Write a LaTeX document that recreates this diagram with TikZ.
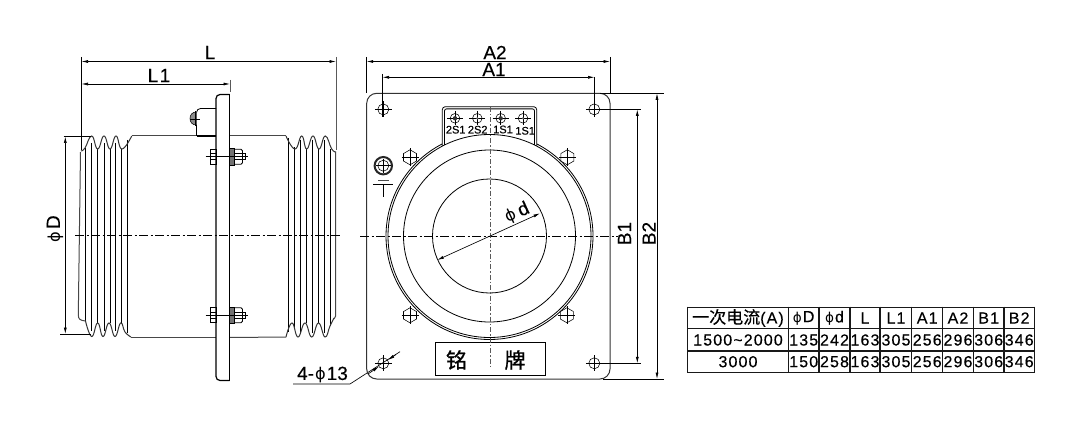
\documentclass[tikz,border=0pt]{standalone}
\usepackage{fontspec}
\setmainfont[FakeBold=0.35]{Liberation Sans}
\newfontfamily\phfont{DejaVu Sans}
\newfontfamily\cjkfont[FakeBold=0.4]{Noto Sans CJK SC}
\newfontfamily\platefont[FakeBold=1]{Noto Sans CJK SC}
\newfontfamily\lsfont[LetterSpace=7,FakeBold=0.35]{Liberation Sans}
\newcommand{\ph}{{\phfont\scalebox{0.85}{ϕ}}}
\usetikzlibrary{arrows.meta}
\tikzset{
  ln/.style={line width=0.8pt,black},
  thin ln/.style={line width=0.55pt,black},
  grayln/.style={line width=1pt,black!72},
  wave/.style={line width=1pt,black!80},
  dim/.style={line width=0.65pt,black,{Latex[length=6.5pt,width=3pt]}-{Latex[length=6.5pt,width=3pt]}},
  dimtip/.style={line width=0.65pt,black,-{Latex[length=6.5pt,width=3pt]}},
  ext/.style={line width=0.65pt,black},
  center ln/.style={line width=0.7pt,black,dash pattern=on 9pt off 2.5pt on 2pt off 2.5pt},
  vcenter ln/.style={line width=0.8pt,black!65,dash pattern=on 5pt off 2pt on 1.5pt off 2pt},
  biglabel/.style={inner sep=0pt,font=\fontsize{19}{20}\selectfont},
  termlabel/.style={inner sep=0pt,font=\fontsize{11}{12}\selectfont},
  cell/.style={inner sep=0pt,font=\fontsize{16}{17}\lsfont},
  grid ln/.style={line width=1.2pt,black!90},
}
\begin{document}
\begin{tikzpicture}[x=1pt,y=-1pt]
\useasboundingbox (0,0) rectangle (1065,425);

% ---------- side view ----------
% bellows left
\foreach \xa/\ya/\yb in {85.7/148/321,91.7/143/331,97.7/149/323,104/143/331,110/149/323,115.7/143/331,121.7/149/323,127.3/140/333}
  \draw[ln] (\xa,\ya) -- (\xa,\yb);
\draw[wave] plot[smooth,tension=0.8] coordinates {(81,151)(85,148)(91.7,136)(97.7,149)(104,136)(110,149)(116,136)(122,149)(131.7,136)};
\draw[wave] plot[smooth,tension=0.8] coordinates {(85.5,321)(91.7,336.5)(97.7,323)(103,336.5)(109,323)(115,336.5)(120.7,323)(125,332)(131,337)};
\draw[grayln] (80.5,152) -- (78.3,315) .. controls (78.3,319) and (80,320.5) .. (85.5,321);
% bellows right
\foreach \xa/\ya/\yb in {288.7/138/332,294/147/328,300/140/333,306.7/149/323,312.3/140/333,318.3/149/323,324.3/140/333,330/149/326}
  \draw[ln] (\xa,\ya) -- (\xa,\yb);
\draw[wave] plot[smooth,tension=0.8] coordinates {(286,136)(295,149)(301.7,136)(306.7,149)(313,136)(319,149)(325.3,136)(331.7,149)(336,152)};
\draw[wave] plot[smooth,tension=0.8] coordinates {(286,337)(292,323)(298,337)(305,323)(311.7,337)(318.5,323)(325,337)(330,326)(334,318)};
\draw[grayln] (335.7,152) -- (335.7,316) -- (334,319);
% body
\draw[grayln] (131.7,136) -- (196.5,136);
\draw[grayln] (229.5,136) -- (286,136);
\draw[grayln] (131,337) -- (216,337);
\draw[grayln] (229.5,337.5) -- (286,337);
% bracket
\draw[line width=0.8pt,rounded corners=4pt] (216,108.5) -- (196.5,108.5) -- (196.5,136);
\draw[line width=1.4pt] (196.5,136) -- (216,136);
\fill[black!45] (196.5,112) .. controls (192,112) and (190,115) .. (190,118.5) .. controls (190,122) and (192,125) .. (196.5,125) -- cycle;
\draw[thin ln] (196.5,112) .. controls (192,112) and (190,115) .. (190,118.5) .. controls (190,122) and (192,125) .. (196.5,125);
\draw[thin ln] (190,119) -- (200,119) (195,111) -- (195,126);
% plate
\draw[line width=1.2pt,rounded corners=4pt] (229.5,94.5) -- (216,94.5) -- (216,380.5) -- (229.5,380.5);
\draw[line width=0.9pt] (229.5,94.5) -- (229.5,380.5);
% bolts
\foreach \yy in {156.7,315.3}{
  \draw[ln] (210,\yy-7.5) rectangle (216,\yy+7.5);
  \draw[thin ln] (210,\yy-3) -- (216,\yy-3) (210,\yy+3) -- (216,\yy+3);
  \fill[black!55] (229.5,\yy-8.3) rectangle (234.3,\yy+8.3);
  \draw[thin ln] (229.5,\yy-8.3) rectangle (234.3,\yy+8.3);
  \draw[ln,rounded corners=1.5pt] (234.3,\yy-7.5) -- (242.5,\yy-7.5) -- (242.5,\yy+7.5) -- (234.3,\yy+7.5);
  \draw[thin ln] (234.3,\yy-3) -- (242.5,\yy-3) (234.3,\yy+3) -- (242.5,\yy+3);
  \draw[thin ln] (205.7,\yy) -- (247.7,\yy);
  \draw[thin ln] (242.5,\yy-3) -- (245,\yy-3) -- (245,\yy+3) -- (242.5,\yy+3);
}
% side center line
\draw[center ln] (75,235.3) -- (342,235.3);
% L dims
\draw[ext] (81.5,57) -- (81.5,150);
\draw[line width=0.8pt,black!65] (336,57) -- (336,150);
\draw[line width=0.8pt,black!65] (230,80) -- (230,92);
\draw[dim] (81.5,61.5) -- (336,61.5);
\draw[dim] (81.5,84) -- (230,84);
\node[biglabel] (labL) at (210,52.5) {L};
\node[biglabel] (labLa) at (159,75.5) {L\hspace{1.5pt}1};
% phi D dim
\draw[ext] (63.5,136.5) -- (91,136.5);
\draw[ext] (60,334) -- (91,334);
\draw[dim] (65.3,136.5) -- (65.3,334);
\node[biglabel,rotate=90] (labD) at (55,229) {\ph\hspace{3pt}D};
% 4-phi 13
\node[biglabel] (lab4) at (322.5,375) {4-\hspace{1pt}\ph\hspace{1pt}13};
\draw[ext] (293,384) -- (350,384) -- (400,351.7);

% ---------- front view ----------
\draw[line width=1pt,black!80,rounded corners=10pt] (366.7,93.3) rectangle (610,379);
% corner holes
\foreach \hx/\hy in {383.3/109.4,594.3/109.4,383.3/363.3,594.3/363.3}{
  \draw[thin ln] (\hx,\hy) circle[radius=5.5pt];
  \draw[thin ln] (\hx-8.5,\hy) -- (\hx+8.5,\hy) (\hx,\hy-8) -- (\hx,\hy+8);
}
% small hex bolts behind the flange
\foreach \hx/\hy in {410/157.3,567.3/157.3,410/315.3,566.9/315.3}{
  \draw[thin ln] (\hx,\hy-7.5) -- (\hx+6.5,\hy-3.75) -- (\hx+6.5,\hy+3.75) -- (\hx,\hy+7.5) -- (\hx-6.5,\hy+3.75) -- (\hx-6.5,\hy-3.75) -- cycle;
  \draw[thin ln] (\hx-8.5,\hy) -- (\hx+8.5,\hy) (\hx,\hy-9) -- (\hx,\hy+9);
}
% flange
\draw[ln,fill=white] (489.5,236) circle[radius=103.5pt];
% terminal box
\fill[white] (442.3,150) -- (442.3,106.7) -- (536.7,106.7) -- (536.7,150) -- cycle;
\draw[ln,rounded corners=3pt] (442.3,146) -- (442.3,106.7) -- (536.7,106.7) -- (536.7,146);
\draw[ln,rounded corners=2pt] (444.5,146) -- (444.5,108.9) -- (534.5,108.9) -- (534.5,146);
\draw[ln,fill=white] (489.5,236) circle[radius=101.5pt];
\draw[ln] (489.5,236) circle[radius=86pt];
\draw[ln] (489.5,236) circle[radius=57pt];
% terminals
\foreach \hx/\dark in {455/1,477.3/0,500.7/1,523/0}{
  \draw[thin ln] (\hx,118.3) circle[radius=4.8pt];
  \draw[thin ln] (\hx-8,118.3) -- (\hx+8,118.3) (\hx,111) -- (\hx,125.5);
  \ifnum\dark=1 \fill[black!80] (\hx,118.3) circle[radius=2.2pt]; \else \fill[black!60] (\hx,118.3) circle[radius=1.2pt]; \fi
}
\node[termlabel] (t1) at (455.7,129.7) {2S1};
\node[termlabel] (t2) at (477.7,129.7) {2S2};
\node[termlabel] (t3) at (503,129.5) {1S1};
\node[termlabel] (t4) at (525.2,130.8) {1S1};
% centre lines
\draw[center ln] (360,236) -- (618,236);
% ground
\draw[line width=2pt,black!85] (383.3,165.7) circle[radius=8.7pt];
\draw[thin ln] (383.3,165.7) circle[radius=5.5pt];
\draw[thin ln] (376,165.7) -- (390.7,165.7) (383.3,158.5) -- (383.3,173);
\draw[line width=0.6pt,black!70] (378,180) -- (388.5,180);
\draw[line width=0.9pt] (373.3,184) -- (393.3,184);
\draw[line width=0.8pt] (383.3,184) -- (383.3,197);
% nameplate
\draw[line width=1pt,fill=white] (435.7,342.3) rectangle (545.3,375.3);
\node[inner sep=0pt,font=\fontsize{21}{22}\platefont] (pl1) at (456.5,360) {铭};
\node[inner sep=0pt,font=\fontsize{21}{22}\platefont] (pl2) at (515,360) {牌};
\draw[vcenter ln] (490,106.7) -- (490,366.7);
% phi d
\draw[dim] (540,213.3) -- (437.3,260);
\node[biglabel,rotate=24.5] (labd) at (517,213) {\ph\hspace{4pt}d};
% front dims
\draw[ext] (366.7,57) -- (366.7,93.3);
\draw[ext] (610,57) -- (610,93.3);
\draw[ext] (382.5,74) -- (382.5,117);
\draw[ext] (594.5,77) -- (594.5,117);
\draw[dim] (366.7,61.5) -- (610,61.5);
\draw[dim] (382.5,77.3) -- (594.5,77.3);
\node[biglabel] (labA2) at (495,52.5) {A2};
\node[biglabel] (labA1) at (494,69.5) {A1};
\draw[ext] (600,93.3) -- (663.5,93.3);
\draw[ext] (594.3,109.4) -- (641,109.4);
\draw[ext] (594.3,363.3) -- (641,363.3);
\draw[ext] (603,379) -- (663.5,379);
\draw[dim] (637.3,109.4) -- (637.3,363.3);
\draw[dim] (657,93.3) -- (657,379);
\node[biglabel,rotate=90] (labB1) at (624.5,233.5) {B1};
\node[biglabel,rotate=90] (labB2) at (649,233.5) {B2};
% 4-phi13 arrowheads
\draw[dimtip] (368,374) -- (379,366.5);
\draw[dimtip] (396,354.5) -- (388,360);

% ---------- table ----------
\foreach \yy in {307.3,328.5,351,372.3}
  \draw[grid ln] (687.3,\yy) -- (1034.3,\yy);
\foreach \xx in {687.3,788.3,819,850,880,911.7,942.7,973.3,1004,1034.3}
  \draw[grid ln] (\xx,306.7) -- (\xx,372.9);
\node[inner sep=0pt] (h0) at (738,318) {\fontsize{17}{18}\cjkfont 一次电流\fontsize{16}{17}\lsfont(A)};
\node[cell] (h1) at (803.7,318) {\ph\hspace{1pt}D};
\node[cell] (h2) at (834.5,318) {\ph\hspace{1pt}d};
\node[cell] (h3) at (865,318) {L};
\node[cell] (h4) at (896,318) {L\hspace{1pt}1};
\node[cell] (h5) at (927.2,318) {A1};
\node[cell] (h6) at (958,318) {A2};
\node[cell] (h7) at (988.7,318) {B1};
\node[cell] (h8) at (1019.2,318) {B2};
\node[cell] (a0) at (738,340) {1500\textasciitilde 2000};
\node[cell] (a1) at (803.7,340) {135};
\node[cell] (a2) at (834.5,340) {242};
\node[cell] (a3) at (865,340) {163};
\node[cell] (a4) at (896,340) {305};
\node[cell] (a5) at (927.2,340) {256};
\node[cell] (a6) at (958,340) {296};
\node[cell] (a7) at (988.7,340) {306};
\node[cell] (a8) at (1019.2,340) {346};
\node[cell] (b0) at (738,361.7) {3000};
\node[cell] (b1) at (803.7,361.7) {150};
\node[cell] (b2) at (834.5,361.7) {258};
\node[cell] (b3) at (865,361.7) {163};
\node[cell] (b4) at (896,361.7) {305};
\node[cell] (b5) at (927.2,361.7) {256};
\node[cell] (b6) at (958,361.7) {296};
\node[cell] (b7) at (988.7,361.7) {306};
\node[cell] (b8) at (1019.2,361.7) {346};
\end{tikzpicture}
\end{document}
